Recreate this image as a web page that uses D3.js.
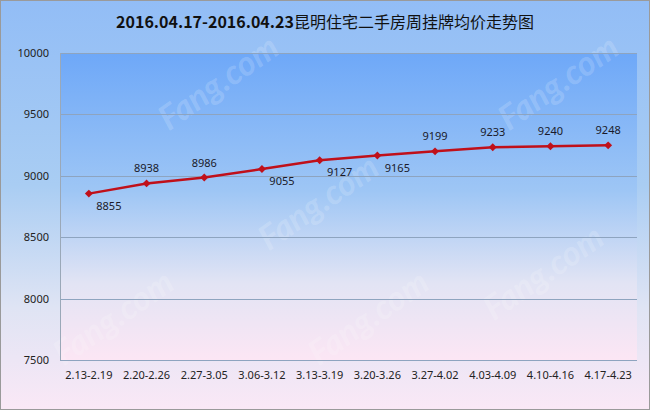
<!DOCTYPE html>
<html><head><meta charset="utf-8">
<script src="https://cdn.jsdelivr.net/npm/d3@7"></script>
<style>html,body{margin:0;padding:0;background:#fff;}svg{display:block;}</style>
</head><body>
<svg id="chart" width="650" height="410"></svg>
<script>
const title = "2016.04.17-2016.04.23昆明住宅二手房周挂牌均价走势图";
const categories = ["2.13-2.19","2.20-2.26","2.27-3.05","3.06-3.12","3.13-3.19","3.20-3.26","3.27-4.02","4.03-4.09","4.10-4.16","4.17-4.23"];
const prices = [8855, 8938, 8986, 9055, 9127, 9165, 9199, 9233, 9240, 9248];
const yTicks = [7500, 8000, 8500, 9000, 9500, 10000];
const labelPlacement = ["belowRight","above","above","belowRight","belowRight","belowRight","above","above","above","above"];

const W = 650, H = 410;
const m = {left: 60, right: 13, top: 53, bottom: 50};
const svg = d3.select("#chart");
const defs = svg.append("defs");

const g1 = defs.append("linearGradient").attr("id","outerBg").attr("x1",0).attr("y1",0).attr("x2",0).attr("y2",1);
g1.append("stop").attr("offset","0%").attr("stop-color","#92bdf6");
g1.append("stop").attr("offset","45%").attr("stop-color","#a9cdf3");
g1.append("stop").attr("offset","75%").attr("stop-color","#dfe4f4");
g1.append("stop").attr("offset","100%").attr("stop-color","#fae8f6");

const g2 = defs.append("linearGradient").attr("id","plotBg").attr("x1",0).attr("y1",0).attr("x2",0).attr("y2",1);
g2.append("stop").attr("offset","0%").attr("stop-color","#6ea8f8");
g2.append("stop").attr("offset","45%").attr("stop-color","#9ec6f5");
g2.append("stop").attr("offset","75%").attr("stop-color","#e2e4f4");
g2.append("stop").attr("offset","100%").attr("stop-color","#fce6f4");

svg.append("rect").attr("x",0.5).attr("y",0.5).attr("width",W-1).attr("height",H-1)
  .attr("fill","url(#outerBg)").attr("stroke","#9a9a9a").attr("stroke-width",1);

const x = d3.scaleBand().domain(categories).range([m.left, W - m.right]);
const y = d3.scaleLinear().domain([7500, 10000]).range([H - m.bottom, m.top]);

svg.append("rect").attr("x",m.left).attr("y",m.top)
  .attr("width",W - m.right - m.left).attr("height",H - m.bottom - m.top)
  .attr("fill","url(#plotBg)");

// watermarks
const wm = [[220,85],[560,85],[320,205],[545,275],[115,320],[370,320]];
svg.append("g").selectAll("text").data(wm).join("text")
  .attr("transform", d => `translate(${d[0]},${d[1]}) rotate(-35)`)
  .attr("text-anchor","middle").attr("dominant-baseline","middle")
  .attr("font-family","Lato, 'Open Sans', sans-serif").attr("font-weight","bold").attr("font-style","italic")
  .attr("font-size",34).attr("fill","#ffffff").attr("fill-opacity",0.18)
  .text("Fang.com");

// gridlines
svg.append("g").selectAll("line").data(yTicks).join("line")
  .attr("x1",m.left).attr("x2",W - m.right)
  .attr("y1",d => Math.round(y(d))+0.5).attr("y2",d => Math.round(y(d))+0.5)
  .attr("stroke","#8ea4bf").attr("stroke-width",1);

// left axis line
svg.append("line").attr("x1",m.left+0.5).attr("x2",m.left+0.5)
  .attr("y1",m.top).attr("y2",H - m.bottom).attr("stroke","#9aa8b8");

// y axis
const yAxis = svg.append("g").attr("transform",`translate(${m.left},0)`)
  .call(d3.axisLeft(y).tickValues(yTicks).tickSize(0).tickPadding(11).tickFormat(d3.format("d")));
yAxis.select(".domain").remove();
yAxis.selectAll("text").attr("font-family","'Noto Sans', 'DejaVu Sans', sans-serif").attr("font-size",11).attr("fill","#222");

// x axis
const xAxis = svg.append("g").attr("transform",`translate(0,${H - m.bottom})`)
  .call(d3.axisBottom(x).tickSize(0).tickPadding(11));
xAxis.select(".domain").remove();
xAxis.selectAll("text").attr("font-family","'Noto Sans', 'DejaVu Sans', sans-serif").attr("font-size",11).attr("fill","#222");

const cx = d => x(d) + x.bandwidth()/2;

// line
const line = d3.line().x((d,i) => cx(categories[i])).y(d => y(d));
svg.append("path").datum(prices).attr("d",line).attr("fill","none")
  .attr("stroke","#c0101a").attr("stroke-width",2.5);

// markers
svg.append("g").selectAll("path").data(prices).join("path")
  .attr("transform",(d,i) => `translate(${cx(categories[i])},${y(d)})`)
  .attr("d", d3.symbol().type(d3.symbolDiamond2).size(40))
  .attr("fill","#c0101a");

// labels
svg.append("g").selectAll("text").data(prices).join("text")
  .attr("x",(d,i) => cx(categories[i]) + (labelPlacement[i]==="above" ? 0 : 20))
  .attr("y",(d,i) => y(d) + (labelPlacement[i]==="above" ? -11 : 16))
  .attr("text-anchor","middle")
  .attr("font-family","'Noto Sans', 'DejaVu Sans', sans-serif").attr("font-size",11).attr("fill","#1a1a2a")
  .text(d => d);

// title
const t = svg.append("text").attr("x",325).attr("y",28).attr("text-anchor","middle")
  .attr("font-family","'Noto Sans CJK SC', 'Noto Sans', sans-serif").attr("font-size",16).attr("fill","#111");
t.append("tspan").attr("font-weight","bold").text(title.slice(0,21));
t.append("tspan").text(title.slice(21));
</script>
</body></html>
